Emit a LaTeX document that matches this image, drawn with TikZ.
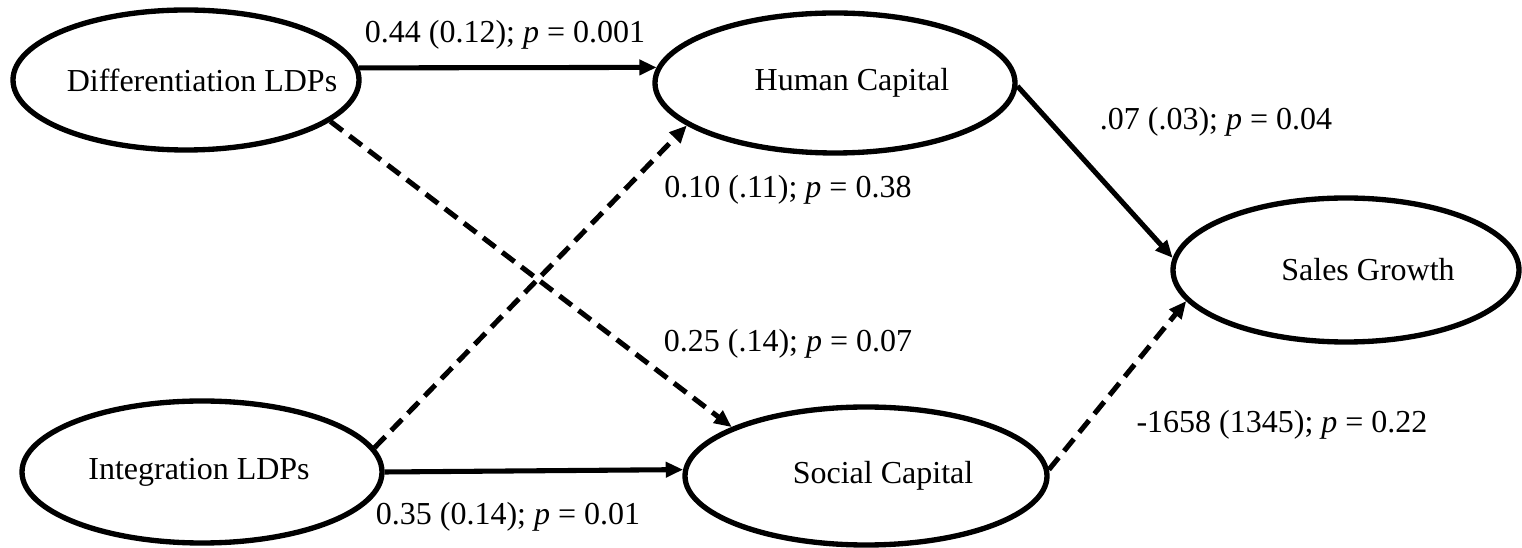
\documentclass[tikz,border=0pt]{standalone}
\usepackage{fontspec}
\setmainfont{Liberation Serif}
\usetikzlibrary{shapes.geometric,arrows.meta}
\newlength{\px}
\setlength{\px}{0.375pt}	%one pixel

\begin{document}
\begin{tikzpicture}[x=0.375pt,y=-0.375pt]
    \tikzset{
        latent/.style={ellipse, draw, line width=2pt, inner sep=0pt},
        txt/.style={font=\fontsize{12}{14}\selectfont},
        coef/.style={txt, anchor=base, inner sep=0pt},
        eff/.style={line width=1.9pt, -{Triangle[length=6.5pt,width=5.6pt]}},
        noeff/.style={eff, dash pattern=on 5.8pt off 3.2pt}
    };
    \useasboundingbox (0,0) rectangle (1522,548);
    % latent variables
    \node[latent, minimum width=346\px, minimum height=140\px,
        label={[txt, xshift=16\px]center:Differentiation LDPs}] (diff) at (186,80) {};
    \node[latent, minimum width=360\px, minimum height=142\px,
        label={[txt, xshift=-3\px]center:Integration LDPs}] (integ) at (202,472) {};
    \node[latent, minimum width=360\px, minimum height=140\px,
        label={[txt, xshift=17\px]center:Human Capital}] (hum) at (835,83) {};
    \node[latent, minimum width=362\px, minimum height=138\px,
        label={[txt, xshift=17\px]center:Social Capital}] (soc) at (866,476) {};
    \node[latent, minimum width=346\px, minimum height=144\px,
        label={[txt, xshift=22\px]center:Sales Growth}] (sales) at (1346,270) {};
    % paths
    \draw[eff] (diff.4) -- (hum.175.1);
    \draw[noeff] (diff.-16.8) -- (soc.160.9);
    \draw[noeff] (integ.8.7) -- (hum.-164.6);
    \draw[eff] (integ.0) -- (soc.178.8);
    \draw[eff] (hum.-1.6) -- (sales.176.7);
    \draw[noeff] (soc.2.9) -- (sales.-169.4);
    % estimates
    \node[coef] (c1) at (505,43) {0.44 (0.12); \textit{p} = 0.001};
    \node[coef] (c2) at (1216,130) {.07 (.03); \textit{p} = 0.04};
    \node[coef] (c3) at (788,198) {0.10 (.11); \textit{p} = 0.38};
    \node[coef] (c4) at (788,352) {0.25 (.14); \textit{p} = 0.07};
    \node[coef] (c5) at (1282,433) {-1658 (1345); \textit{p} = 0.22};
    \node[coef] (c6) at (508,525) {0.35 (0.14); \textit{p} = 0.01};
\end{tikzpicture}
\end{document}
